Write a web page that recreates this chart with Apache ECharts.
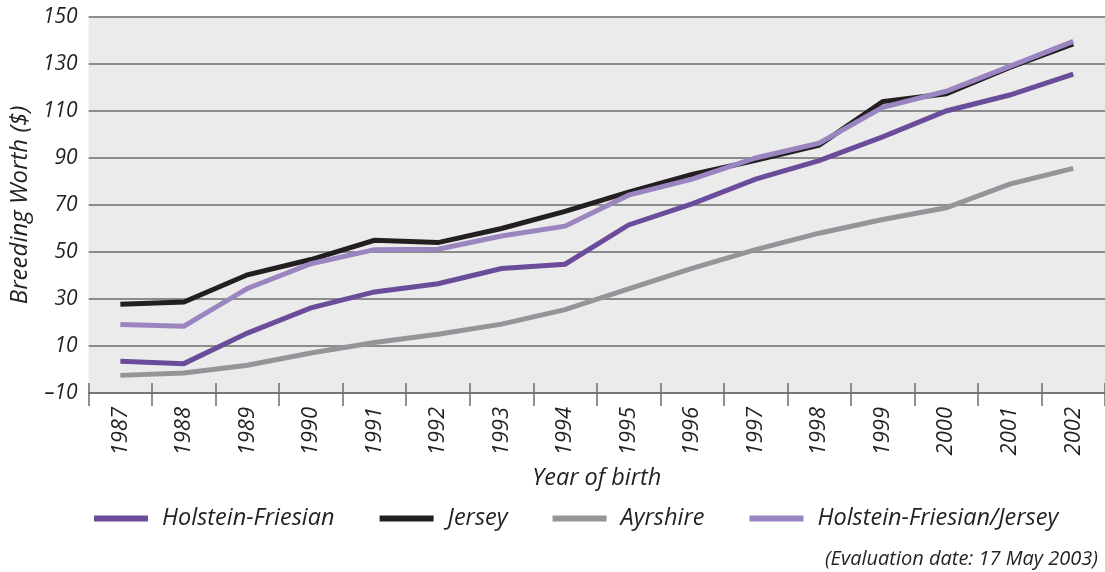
<!DOCTYPE html>
<html>
<head>
<meta charset="utf-8">
<script src="https://cdn.jsdelivr.net/npm/echarts@6/dist/echarts.min.js"></script>
<style>
  html, body { margin: 0; padding: 0; background: #fff; }
  #main { width: 1105px; height: 572px; }
</style>
</head>
<body>
<div id="main"></div>
<script>
// 数据
var years = ['1987', '1988', '1989', '1990', '1991', '1992', '1993', '1994',
	'1995', '1996', '1997', '1998', '1999', '2000', '2001', '2002'];
var holsteinFriesian = [3.5, 2.5, 15.5, 26.2, 33, 36.5, 43, 44.8, 61.5, 70.5, 81, 88.9, 99, 110, 116.8, 125.7];
var jersey = [27.8, 28.7, 40.3, 46.8, 55, 54, 60, 67.3, 75.5, 83, 89, 95.5, 114, 117.3, 128.5, 138.5];
var ayrshire = [-2.5, -1.5, 1.8, 7, 11.5, 15, 19.3, 25.5, 34.3, 43, 51, 58, 63.8, 68.8, 78.9, 85.6];
var hfJersey = [19.2, 18.4, 34.5, 45, 51, 51.2, 56.8, 61, 74.2, 81, 90, 96.3, 111.6, 118.4, 129, 139.6];
var seriesNames = ['Holstein-Friesian', 'Jersey', 'Ayrshire', 'Holstein-Friesian/Jersey'];
var seriesColors = ['#6b4c9a', '#231f20', '#939598', '#9b85c1'];

var fontFamily = '"Open Sans", "Noto Sans", sans-serif';
var textColor = '#231f20';
var gridColor = '#6d6d6d';

function makeLine(name, data, color) {
	return {
		name: name,
		type: 'line',
		data: data,
		xAxisIndex: 0,
		symbol: 'none',
		lineStyle: { color: color, width: 5, cap: 'butt', join: 'miter' },
		itemStyle: { color: color }
	};
}

var option = {
	animation: false,
	textStyle: { fontFamily: fontFamily, fontStyle: 'italic', color: textColor },
	title: {
		text: '(Evaluation date: 17 May 2003)',
		right: 2,
		top: 544,
		textStyle: { fontFamily: fontFamily, fontStyle: 'italic', fontWeight: 'normal', fontSize: 20, color: textColor }
	},
	legend: {
		data: seriesNames,
		left: 89,
		top: 502,
		icon: 'rect',
		itemWidth: 54,
		itemHeight: 6,
		itemGap: 45,
		textStyle: { fontFamily: fontFamily, fontStyle: 'italic', fontSize: 23.5, color: textColor, padding: [0, 0, 0, 9] }
	},
	grid: {
		left: 86,
		right: 0,
		top: 17,
		bottom: 179,
		show: true,
		backgroundColor: '#ebebeb',
		borderWidth: 0
	},
	xAxis: [
		{
			type: 'category',
			data: years,
			boundaryGap: true,
			name: 'Year of birth',
			nameLocation: 'middle',
			nameGap: 74,
			nameTextStyle: { fontFamily: fontFamily, fontStyle: 'italic', fontSize: 23.5, color: textColor },
			axisLine: { onZero: false, lineStyle: { color: gridColor, width: 1.5 } },
			axisTick: { show: true, inside: false, length: 13, lineStyle: { color: gridColor, width: 1.5 } },
			axisLabel: { rotate: 90, margin: 14, fontSize: 22, fontStyle: 'italic', color: textColor, fontFamily: fontFamily },
			splitLine: { show: false }
		},
		{
			type: 'category',
			data: years,
			position: 'bottom',
			boundaryGap: true,
			axisLine: { show: false, onZero: false },
			axisTick: { show: true, inside: true, length: 10, lineStyle: { color: gridColor, width: 1.5 } },
			axisLabel: { show: false },
			splitLine: { show: false }
		}
	],
	yAxis: {
		type: 'value',
		min: -10,
		max: 150,
		interval: 20,
		name: 'Breeding Worth ($)',
		nameLocation: 'middle',
		nameGap: 53,
		nameTextStyle: { fontFamily: fontFamily, fontStyle: 'italic', fontSize: 24, color: textColor },
		axisLine: { show: false },
		axisTick: { show: false },
		axisLabel: {
			margin: 11,
			fontSize: 21,
			fontStyle: 'italic',
			color: textColor,
			fontFamily: fontFamily,
			formatter: function (v) { return String(v).replace('-', '\u2013'); }
		},
		splitLine: { lineStyle: { color: gridColor, width: 1.5 } }
	},
	series: [
		makeLine(seriesNames[0], holsteinFriesian, seriesColors[0]),
		makeLine(seriesNames[1], jersey, seriesColors[1]),
		makeLine(seriesNames[2], ayrshire, seriesColors[2]),
		makeLine(seriesNames[3], hfJersey, seriesColors[3])
	]
};

var myChart = echarts.init(document.getElementById('main'));
myChart.setOption(option);
window.onresize = myChart.resize;
</script>
</body>
</html>
